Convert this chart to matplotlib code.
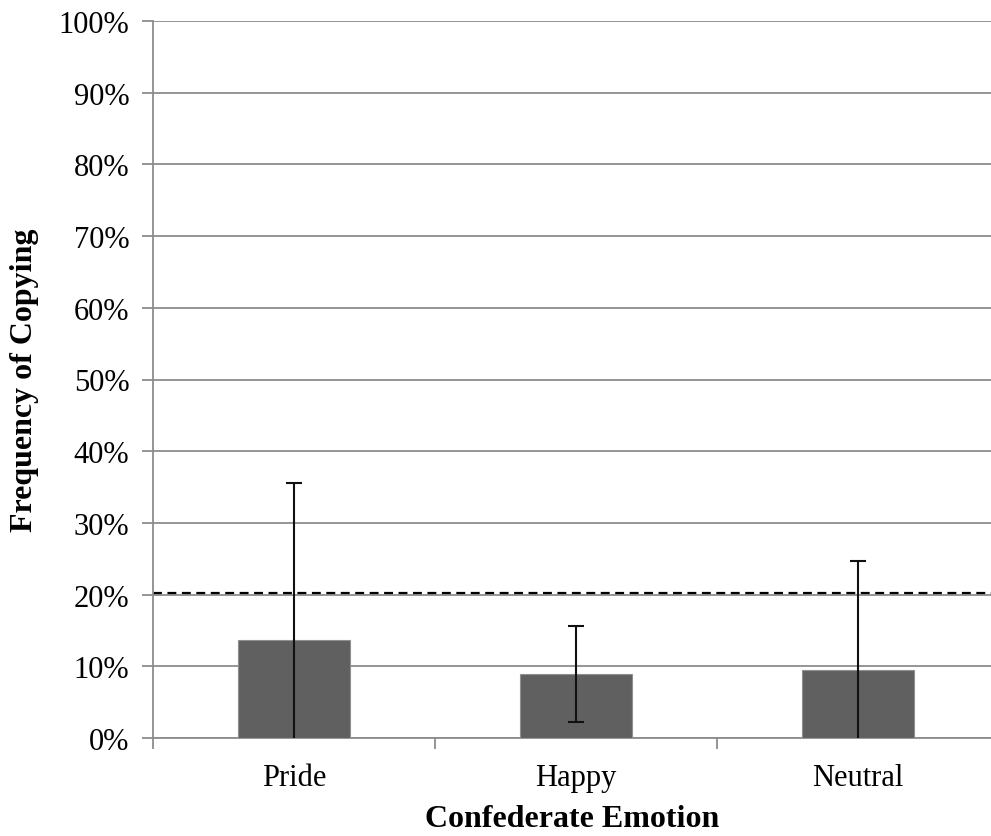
import numpy as np
import matplotlib.pyplot as plt
from matplotlib.ticker import PercentFormatter, FixedLocator

# Datos
categories = ['Pride', 'Happy', 'Neutral']
values = [13.7, 8.9, 9.5]
err_low = [0.0, 2.2, 0.0]      # extremo inferior de la barra de error
err_high = [35.5, 15.6, 24.7]  # extremo superior de la barra de error
chance_level = 20.2

plt.rcParams['font.family'] = ['Liberation Serif', 'DejaVu Serif']

fig = plt.figure(figsize=(9.91, 8.37), dpi=100)
ax = fig.add_axes([153 / 991, 98 / 837, 838 / 991, 717 / 837])

x = np.arange(len(categories))
vals = np.array(values)
low = np.array(err_low)
yerr = np.array([vals - low, np.array(err_high) - vals])

ax.bar(x, vals, width=0.4, color='#606060', edgecolor='#909090', linewidth=0.8, zorder=3)
eb = ax.errorbar(x, vals, yerr=yerr, fmt='none', ecolor='#111111', elinewidth=1.5,
                 capsize=6, capthick=1.5, zorder=4)
# sin tapa inferior cuando el extremo está en 0
caps = eb[1]
mask = low > 0
caps[0].set_data(x[mask], low[mask])

# Línea discontinua (nivel de referencia)
ax.axhline(chance_level, color='black', linestyle=(0, (4, 2.5)), linewidth=1.6, zorder=2)

# Ejes
ax.set_ylim(0, 100)
ax.set_xlim(-0.5, 2.5 - 8 / 282)
ax.set_yticks(np.arange(0, 101, 10))
ax.yaxis.set_major_formatter(PercentFormatter(decimals=0))
ax.grid(axis='y', color='#8c8c8c', linewidth=1.3, zorder=0)
ax.set_axisbelow(True)

ax.set_xticks(x)
ax.set_xticklabels(categories)
ax.tick_params(axis='x', which='major', length=0, pad=18, labelsize=22)
ax.xaxis.set_minor_locator(FixedLocator([-0.5, 0.5, 1.5]))
ax.tick_params(axis='x', which='minor', length=8, width=1.3, color='#8c8c8c')
ax.tick_params(axis='y', length=8, width=1.3, color='#8c8c8c', labelsize=22, pad=9)

for side in ['top', 'right']:
    ax.spines[side].set_visible(False)
for side in ['left', 'bottom']:
    ax.spines[side].set_color('#8c8c8c')
    ax.spines[side].set_linewidth(1.3)

ax.set_xlabel('Confederate Emotion', fontsize=23, fontweight='bold', labelpad=8.5)
ax.set_ylabel('Frequency of Copying', fontsize=23, fontweight='bold', labelpad=14)

plt.savefig('out.png', dpi=100)
